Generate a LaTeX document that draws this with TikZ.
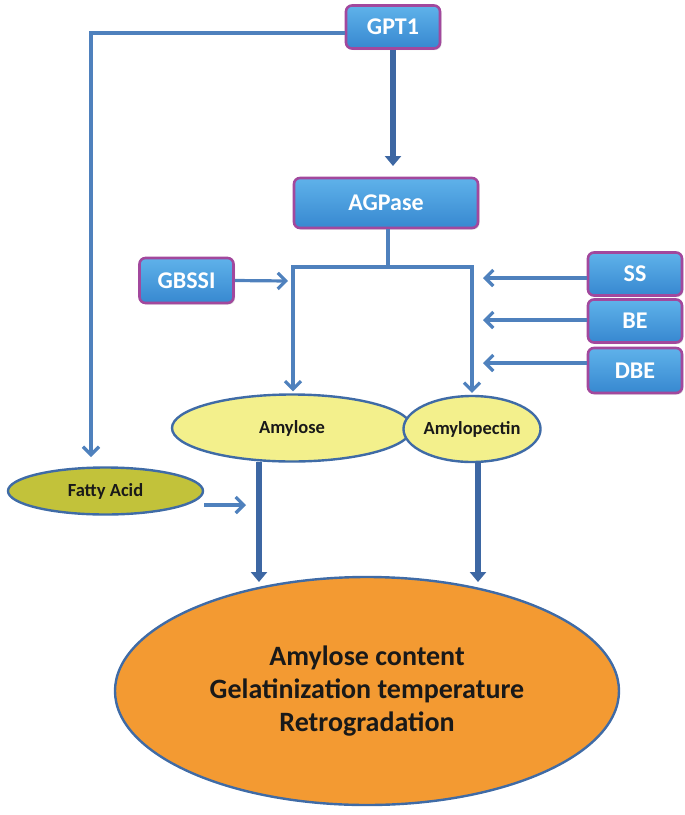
\documentclass[tikz,border=0pt]{standalone}
\usepackage{fontspec}
\setmainfont{Carlito}
\usetikzlibrary{arrows.meta,shapes.geometric,shadows}
\definecolor{arr}{HTML}{4F81BD}
\definecolor{thickarr}{HTML}{3D67A3}
\definecolor{boxedge}{HTML}{A2489D}
\definecolor{boxtop}{HTML}{5FB2EA}
\definecolor{boxbot}{HTML}{3788D0}
\definecolor{elledge}{HTML}{3F6BA6}
\definecolor{yell}{HTML}{F3F08C}
\definecolor{olive}{HTML}{C2C23A}
\definecolor{orng}{HTML}{F39A32}
\tikzset{
  enz/.style={rectangle, rounded corners=6pt, draw=boxedge, line width=2.6pt,
    top color=boxtop, bottom color=boxbot, text=white,
    font=\bfseries\fontsize{24}{28}\selectfont,
    minimum width=94pt, minimum height=43pt, inner sep=0pt,
    drop shadow={opacity=0.25, shadow xshift=1.5pt, shadow yshift=-1.5pt}},
  prod/.style={ellipse, draw=elledge, line width=2.4pt, inner sep=0pt,
    font=\bfseries\fontsize{18.5}{22}\selectfont, text=black!90},
  thinarrow/.style={draw=arr, line width=3.2pt, -{Straight Barb[length=8pt,width=16pt,line width=3.2pt]}},
  thinline/.style={draw=arr, line width=3.2pt},
  thickarrow/.style={draw=thickarr, line width=5.5pt, -{Triangle[length=10pt,width=16pt]}}
}
\begin{document}
\begin{tikzpicture}[x=1pt,y=-1pt]
\useasboundingbox (0,0) rectangle (685,815);
% boxes
\node[enz] (gpt) at (393,27) {GPT1};
\node[enz, minimum width=184pt, minimum height=50pt] (agp) at (386,203) {AGPase};
\node[enz, minimum width=94pt, minimum height=45pt] (gb) at (186.5,280.5) {GBSSI};
\node[enz] (ss) at (635,274) {SS};
\node[enz] (be) at (635,321) {BE};
\node[enz, minimum height=45pt] (dbe) at (635,370.5) {DBE};
% ellipses
\node[prod, fill=yell, minimum width=240pt, minimum height=67pt] (amy) at (292,428) {Amylose};
\node[prod, fill=yell, minimum width=136pt, minimum height=66pt] (amp) at (472,429) {Amylopectin};
\node[prod, fill=olive, minimum width=195pt, minimum height=47pt] (fa) at (105.5,491) {Fatty Acid};
\node[prod, fill=orng, minimum width=504pt, minimum height=228pt, align=center,
  font=\bfseries\fontsize{28}{33}\selectfont] (big) at (367,691) {Amylose content\\Gelatinization temperature\\Retrogradation};
% coordinates
\coordinate (jl) at (293,267);
\coordinate (jr) at (472,267);
\coordinate (jm) at (388,267);
\coordinate (gpl) at (91,33);
\coordinate (fatop) at (91,457);
\coordinate (gbtip) at (288,281);
\coordinate (sstip) at (483,278);
\coordinate (betip) at (483,320);
\coordinate (dbetip) at (483,363);
\coordinate (fatip) at (246,505);
\coordinate (t1) at (259,582);
\coordinate (t2) at (478,582);
\coordinate (s1) at (259,462);
\coordinate (s2) at (478,462);
% connectors
\draw[thickarrow] (gpt.south) -- (393,166);
\draw[thinline] (gpt.west |- gpl) -- (gpl) -- ++(0,10);
\draw[thinarrow] (gpl) -- (fatop);
\draw[thinline] (agp.south -| jm) -- (jm);
\draw[thinline, line cap=rect] (jl) -- (jr);
\draw[thinarrow] (jl) -- ([yshift=2pt]amy.north -| jl);
\draw[thinarrow] (jr) -- ([yshift=2pt]amp.north -| jr);
\draw[thinarrow] (gb.east) -- (gbtip);
\draw[thinarrow] (ss.west |- sstip) -- (sstip);
\draw[thinarrow] (be.west |- betip) -- (betip);
\draw[thinarrow] (dbe.west |- dbetip) -- (dbetip);
\draw[thinarrow] (fa.east |- fatip) -- (fatip);
\draw[thickarrow] (s1) -- (t1);
\draw[thickarrow] (s2) -- (t2);
\end{tikzpicture}
\end{document}
